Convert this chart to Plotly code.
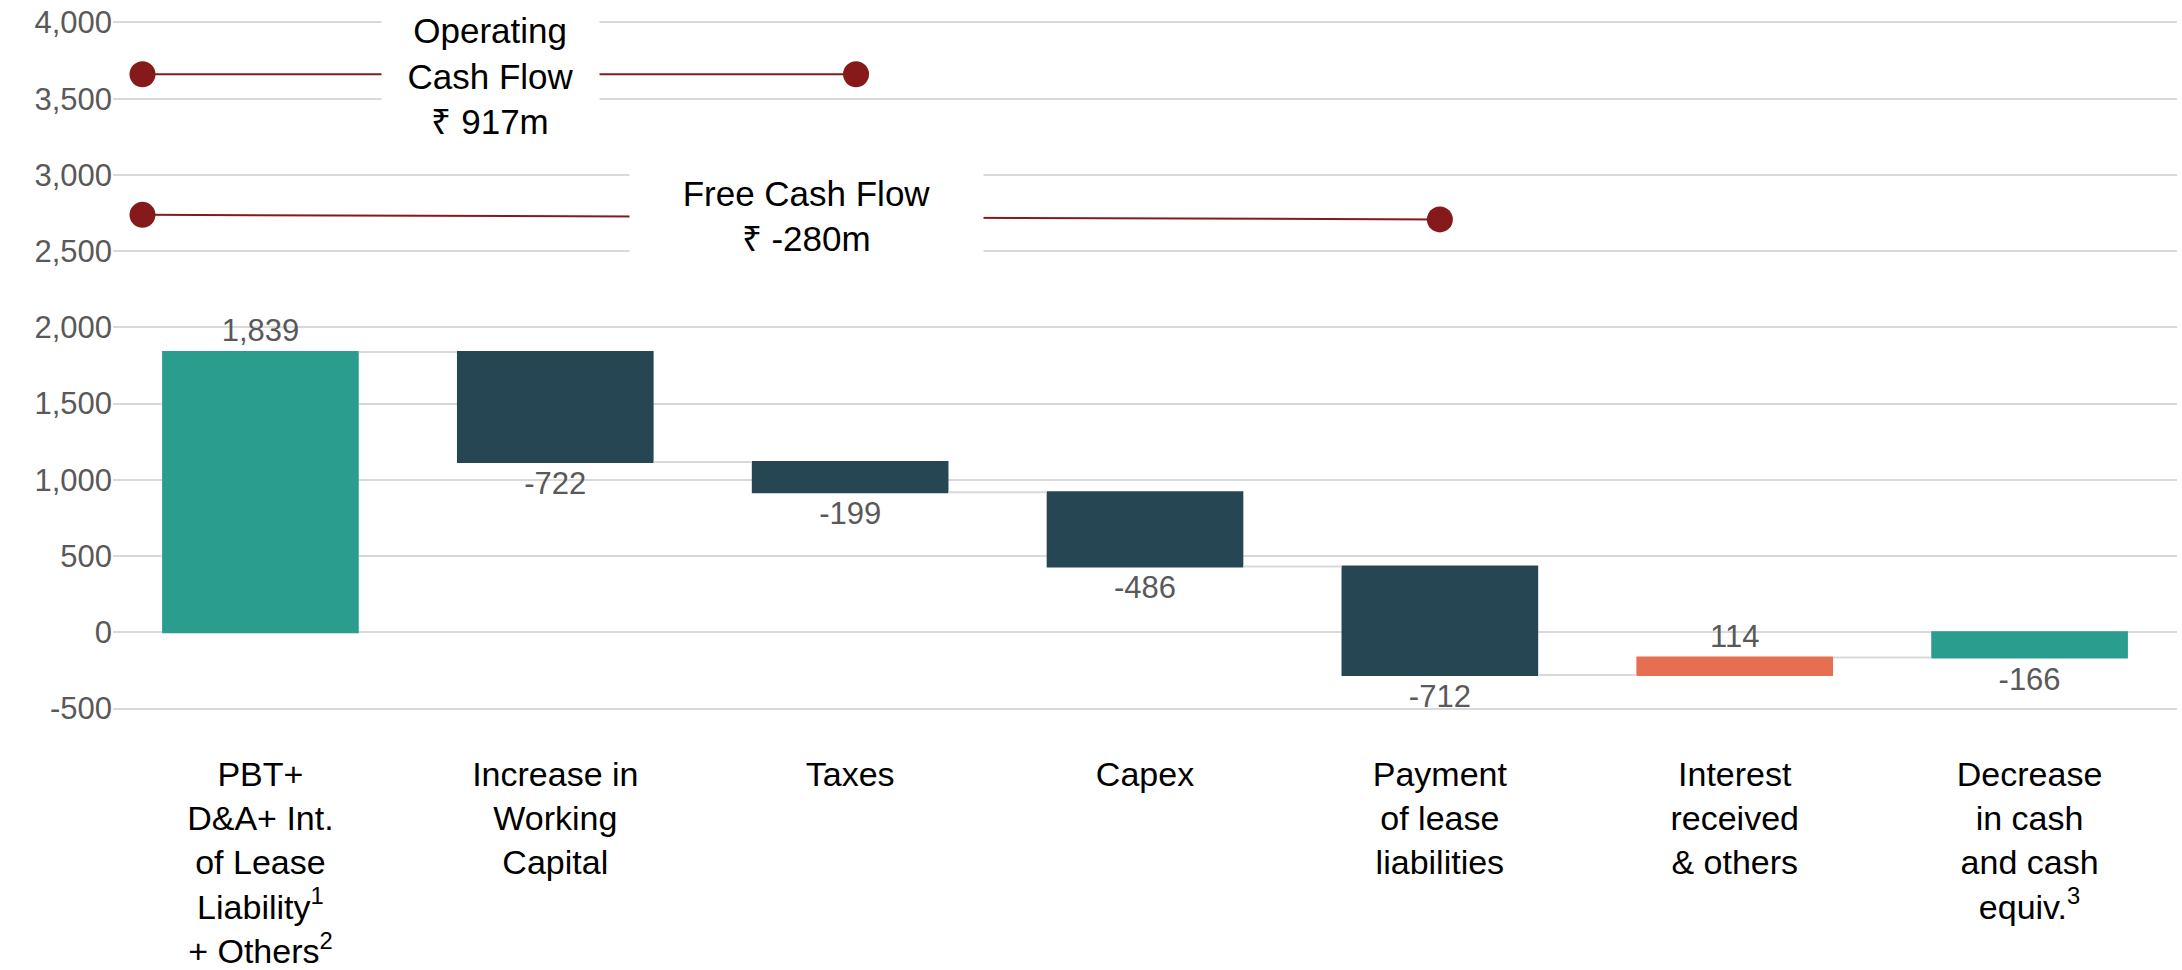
import plotly.graph_objects as go

# ── data ────────────────────────────────────────────────────────────────────
CATEGORIES = [
    "PBT+<br>D&A+ Int.<br>of Lease<br>Liability<sup>1</sup><br>+ Others<sup>2</sup>",
    "Increase in<br>Working<br>Capital",
    "Taxes",
    "Capex",
    "Payment<br>of lease<br>liabilities",
    "Interest<br>received<br>& others",
    "Decrease<br>in cash<br>and cash<br>equiv.<sup>3</sup>",
]
VALUES = [1839, -722, -199, -486, -712, 114, -166]
MEASURES = ["absolute", "relative", "relative", "relative", "relative", "relative", "total"]
Y_TICKS = [-500, 0, 500, 1000, 1500, 2000, 2500, 3000, 3500, 4000]

# bracket annotations (x in category index units)
OCF_X = [-0.40, 2.02]
OCF_Y = [3660, 3660]
OCF_LABEL = "Operating<br>Cash Flow<br>₹ 917m"
OCF_LABEL_POS = (0.78, 3650)

FCF_X = [-0.40, 4.0]
FCF_Y = [2738, 2708]
FCF_LABEL = "Free Cash Flow<br>₹ -280m"
FCF_LABEL_POS = (1.853, 2730)

# ── style ───────────────────────────────────────────────────────────────────
TEAL = "#2A9D8F"
DARK = "#264653"
ORANGE = "#E76F51"
RED = "#861A1A"
GRID = "#D9D9D9"
GREY_TEXT = "#595959"
FONT = "Liberation Sans, Arial, sans-serif"

x_idx = list(range(len(CATEGORIES)))

fig = go.Figure()

fig.add_trace(go.Waterfall(
    x=x_idx,
    y=VALUES,
    measure=MEASURES,
    text=[f"{v:,}" for v in VALUES],
    textposition="outside",
    outsidetextfont=dict(family=FONT, size=31, color=GREY_TEXT),
    cliponaxis=False,
    width=0.667,
    increasing=dict(marker=dict(color=ORANGE)),
    decreasing=dict(marker=dict(color=DARK)),
    totals=dict(marker=dict(color=TEAL)),
    connector=dict(mode="between", line=dict(color=GRID, width=2)),
    showlegend=False,
    hoverinfo="skip",
))

for xs, ys in ((OCF_X, OCF_Y), (FCF_X, FCF_Y)):
    fig.add_trace(go.Scatter(
        x=xs, y=ys,
        mode="lines+markers",
        line=dict(color=RED, width=2),
        marker=dict(color=RED, size=26),
        showlegend=False,
        hoverinfo="skip",
        cliponaxis=False,
    ))

fig.add_annotation(
    x=OCF_LABEL_POS[0], y=OCF_LABEL_POS[1], xref="x", yref="y",
    text=OCF_LABEL, showarrow=False,
    font=dict(family=FONT, size=35, color="black"),
    bgcolor="white", width=215, height=142,
)
fig.add_annotation(
    x=FCF_LABEL_POS[0], y=FCF_LABEL_POS[1], xref="x", yref="y",
    text=FCF_LABEL, showarrow=False,
    font=dict(family=FONT, size=35, color="black"),
    bgcolor="white", width=351, height=90,
)

fig.update_layout(
    width=2182, height=970,
    margin=dict(l=113, r=5, t=9, b=231),
    paper_bgcolor="white",
    plot_bgcolor="white",
    font=dict(family=FONT),
    showlegend=False,
    xaxis=dict(
        range=[-0.5, 6.5],
        tickvals=x_idx,
        ticktext=CATEGORIES,
        tickfont=dict(family=FONT, size=34, color="black"),
        ticklabelstandoff=12,
        automargin=False,
        showgrid=False, zeroline=False, showline=False,
        ticks="",
    ),
    yaxis=dict(
        range=[-700, 4088],
        tickvals=Y_TICKS,
        ticktext=[f"{v:,}" for v in Y_TICKS],
        tickfont=dict(family=FONT, size=31, color=GREY_TEXT),
        automargin=False,
        showgrid=True, gridcolor=GRID, gridwidth=2,
        zeroline=False, showline=False,
        ticks="",
    ),
)

fig.write_html("out.html", config={"displayModeBar": False},
               post_script="document.body.style.margin='0';")
